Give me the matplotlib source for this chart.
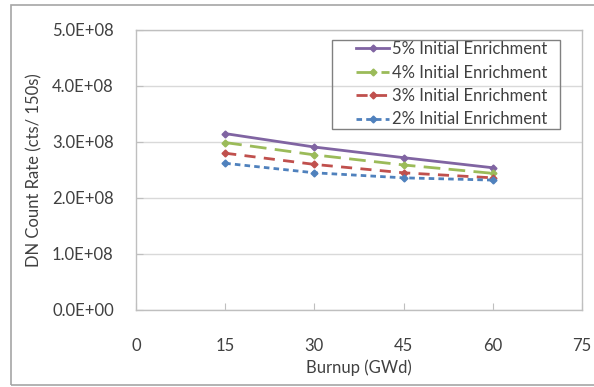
import matplotlib
matplotlib.use("Agg")
import matplotlib.pyplot as plt
from matplotlib.patches import Rectangle
from matplotlib.ticker import FuncFormatter

plt.rcParams['font.family'] = ['Lato', 'DejaVu Sans']

burnup = [15, 30, 45, 60]
enr5 = [3.15e8, 2.91e8, 2.72e8, 2.54e8]
enr4 = [2.99e8, 2.77e8, 2.59e8, 2.44e8]
enr3 = [2.80e8, 2.60e8, 2.45e8, 2.36e8]
enr2 = [2.62e8, 2.45e8, 2.36e8, 2.32e8]
labels = ["5% Initial Enrichment", "4% Initial Enrichment",
          "3% Initial Enrichment", "2% Initial Enrichment"]
xticks = [0, 15, 30, 45, 60, 75]
yticks = [0, 1e8, 2e8, 3e8, 4e8, 5e8]

W, H = 594, 387
fig = plt.figure(figsize=(W/100, H/100), dpi=100)
L, R, T, B = 136, 582, 30, 310
ax = fig.add_axes([L/W, 1-B/H, (R-L)/W, (B-T)/H])

styles = [
    dict(color="#8064A2", linestyle="-", lw=2.0),
    dict(color="#9BBB59", linestyle=(0, (6, 3)), lw=2.0),
    dict(color="#C0504D", linestyle=(0, (4, 3)), lw=2.0),
    dict(color="#4F81BD", linestyle=(0, (2, 1.5)), lw=2.0),
]
for ys, lab, st in zip([enr5, enr4, enr3, enr2], labels, styles):
    ax.plot(burnup, ys, label=lab, marker="D", markersize=3.5,
            markerfacecolor=st["color"], markeredgecolor=st["color"], **st)

fs = 12
ax.set_xlim(0, 75)
ax.set_ylim(0, 5e8)
ax.set_xticks(xticks)
ax.set_yticks(yticks)
ax.yaxis.set_major_formatter(FuncFormatter(lambda v, p: f"{v/1e8:.1f}E+{8 if v else 0:02d}"))
ax.yaxis.grid(True, color="#D9D9D9", lw=1)
ax.set_axisbelow(True)
for s in ax.spines.values():
    s.set_color("#BFBFBF")
    s.set_linewidth(1)
ax.tick_params(axis="both", direction="in", length=5, color="#BFBFBF",
               labelsize=fs, labelcolor="#404040")
ax.tick_params(axis="x", pad=20)
ax.tick_params(axis="y", pad=16)
ax.set_xlabel("Burnup (GWd)", fontsize=fs, color="#404040", labelpad=4)
ax.set_ylabel("DN Count Rate (cts/ 150s)", fontsize=fs, color="#404040", labelpad=7)

def ax_x(px):
    return (px - L) / (R - L)

def ax_y(py):
    return (B - py) / (B - T)

leg = ax.legend(loc="upper left", bbox_to_anchor=(ax_x(356), ax_y(41)), fontsize=fs,
                frameon=False, handlelength=2.0, handletextpad=0.15,
                labelspacing=0.45, borderpad=0, borderaxespad=0)
for t in leg.get_texts():
    t.set_color("#404040")
ax.add_patch(Rectangle((ax_x(332), ax_y(129)), ax_x(560) - ax_x(332), ax_y(40) - ax_y(129),
                       transform=ax.transAxes, fill=True, facecolor="none",
                       edgecolor="#808080", lw=1, zorder=6, clip_on=False))

fig.patches.append(Rectangle((11/W, 2/H), 1.0, 1 - 7/H, transform=fig.transFigure,
                             fill=False, edgecolor="#A6A6A6", lw=1.2))

fig.savefig("out.png", dpi=100)
